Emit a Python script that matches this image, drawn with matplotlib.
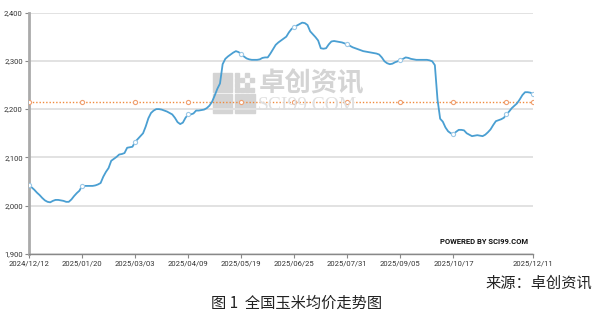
import matplotlib
matplotlib.use("Agg")
import matplotlib.pyplot as plt
from matplotlib.patches import Rectangle

# 全国玉米均价 (元/吨), one value per trading point
prices = [
    2042, 2038, 2033, 2027, 2022, 2016, 2011, 2008, 2007, 2010,
    2012, 2012, 2011, 2010, 2008, 2008, 2013, 2020, 2026, 2031,
    2041, 2041, 2041, 2041, 2041, 2042, 2044, 2047, 2060, 2070,
    2078, 2093, 2097, 2101, 2106, 2107, 2109, 2120, 2121, 2122,
    2132, 2138, 2144, 2150, 2164, 2181, 2192, 2197, 2200, 2200,
    2199, 2197, 2195, 2192, 2189, 2182, 2173, 2169, 2172, 2182,
    2189, 2189, 2191, 2197, 2197, 2198, 2199, 2202, 2207, 2215,
    2228, 2242, 2253, 2293, 2304, 2309, 2313, 2317, 2320, 2318,
    2314, 2309, 2305, 2303, 2302, 2302, 2302, 2303, 2306, 2307,
    2307, 2315, 2324, 2333, 2338, 2342, 2346, 2350, 2359, 2366,
    2370, 2373, 2376, 2379, 2378, 2374, 2361, 2355, 2349, 2342,
    2326, 2325, 2326, 2334, 2340, 2341, 2340, 2339, 2338, 2336,
    2334, 2331, 2328, 2326, 2324, 2322, 2320, 2319, 2318, 2317,
    2316, 2315, 2313, 2307, 2299, 2295, 2293, 2294, 2297, 2299,
    2302, 2304, 2307, 2306, 2304, 2303, 2302, 2302, 2302, 2302,
    2302, 2301, 2299, 2291, 2220, 2180, 2174, 2162, 2154, 2150,
    2148, 2153, 2157, 2157, 2156, 2150, 2147, 2144, 2145, 2146,
    2145, 2144, 2147, 2152, 2158, 2167, 2175, 2177, 2179, 2182,
    2189, 2195, 2202, 2207, 2212, 2220, 2229, 2235, 2235, 2234,
    2231,
]
avg_price = 2214
tick_labels = ["2024/12/12", "2025/01/20", "2025/03/03", "2025/04/09", "2025/05/19",
               "2025/06/25", "2025/07/31", "2025/09/05", "2025/10/17", "2025/12/11"]
y_ticks = [1900, 2000, 2100, 2200, 2300, 2400]

W, H = 594, 316
n = len(prices)
x = list(range(n))
step = 20
tick_pos = list(range(0, n - 1, step))[:len(tick_labels) - 1] + [n - 1]
mark_idx = list(range(0, n, step)) + [n - 1]

fig = plt.figure(figsize=(W / 100, H / 100), dpi=100)
fig.patch.set_facecolor("white")


def px(x0, y0):
    return x0 / W, 1 - y0 / H


# watermark
wm = "#d4d4d4"
for (rx, ry, rw, rh) in [(213, 73, 19, 19), (213, 94, 19, 19), (235, 94, 20, 19)]:
    fig.add_artist(Rectangle(px(rx, ry + rh), rw / W, rh / H, color=wm, zorder=0))
for r in range(4):
    for c in range(4):
        if (r + c) % 2 == 0 or r == 3 or c == 0:
            fig.add_artist(Rectangle(px(235 + c * 5, 73 + r * 5 + 4), 4 / W, 4 / H,
                                     color=wm, zorder=0))
fig.text(*px(259, 84), "卓创资讯", fontsize=19, color=wm, va="center", ha="left",
         family=["Noto Sans CJK SC", "DejaVu Sans"], fontweight="bold", zorder=0)
fig.text(*px(258, 105), "SCI99.COM", fontsize=14, color="#e0e0e0", va="center",
         ha="left", family="Liberation Serif", zorder=0)

ax = fig.add_axes([29 / W, 1 - 254 / H, (533 - 29) / W, (254 - 12.5) / H])
ax.set_facecolor("none")

ax.plot(x, [avg_price] * n, color="#f08a3c", lw=1, ls=(0, (1, 1.4)),
        marker="o", markevery=mark_idx, ms=3, mfc="white", mec="#f0a070", mew=0.8, zorder=3)
ax.plot(x, prices, color="#4a9fd2", lw=1.3, marker="o", markevery=mark_idx,
        ms=3, mfc="white", mec="#9cc8e6", mew=0.8, zorder=4)

ax.set_xlim(0, n - 1)
ax.set_ylim(1900, 2400)
ax.set_yticks(y_ticks)
ax.set_yticklabels([f"{v:,}" for v in y_ticks])
ax.set_xticks(tick_pos)
ax.set_xticklabels(tick_labels)
ax.yaxis.grid(True, color="#e2e2e2", lw=1.4)
ax.set_axisbelow(True)

for s in ["top", "right"]:
    ax.spines[s].set_visible(False)
ax.spines["left"].set_color("#aaaaaa")
ax.spines["left"].set_linewidth(2)
ax.spines["bottom"].set_color("#888888")
ax.spines["bottom"].set_linewidth(1)
ax.tick_params(axis="both", labelsize=5.5, colors="#333333", length=3, width=0.8,
               pad=1.5)
ax.tick_params(axis="y", color="#888888")
ax.tick_params(axis="x", color="#888888")
for lab in ax.get_xticklabels() + ax.get_yticklabels():
    lab.set_family("Roboto")

fig.text(*px(528, 242), "POWERED BY SCI99.COM", fontsize=5.5, fontweight="bold",
         family="Roboto", color="#111111", ha="right", va="center")

cjk = ["Noto Sans CJK SC", "DejaVu Sans"]
fig.text(*px(592, 283), "来源：卓创资讯", fontsize=11, family=cjk, color="#222222",
         ha="right", va="center")
fig.text(*px(297, 303), "图 1  全国玉米均价走势图", fontsize=11, family=cjk,
         color="#222222", ha="center", va="center")

fig.savefig("out.png", dpi=100, facecolor="white")
